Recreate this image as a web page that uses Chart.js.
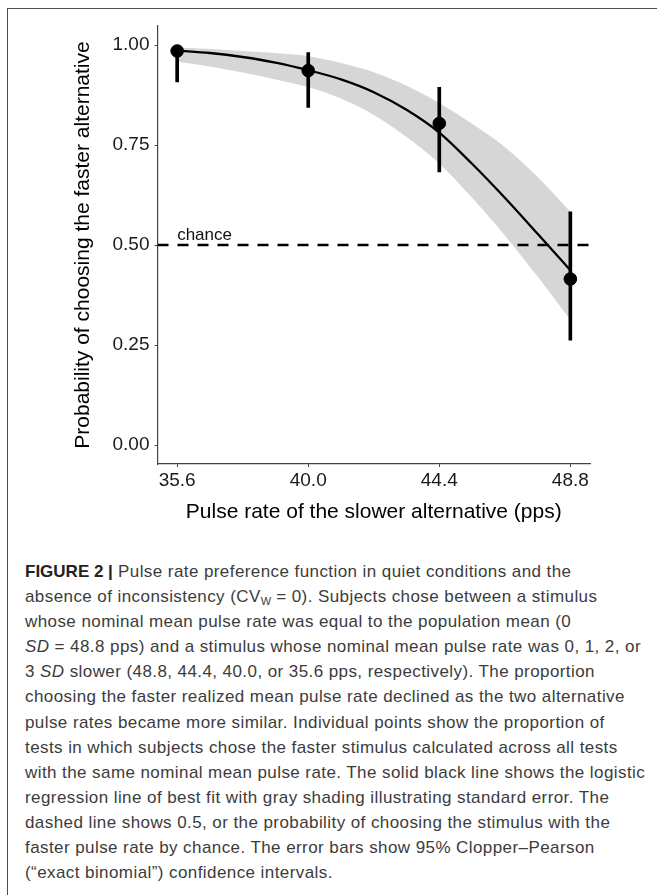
<!DOCTYPE html>
<html>
<head>
<meta charset="utf-8">
<script src="https://cdn.jsdelivr.net/npm/chart.js@4"></script>
<style>
  html, body { margin: 0; padding: 0; background: #fff; }
  body { width: 657px; height: 895px; position: relative; overflow: hidden; font-family: "Liberation Sans", Arial, sans-serif; }
  #frame { position: absolute; left: 7px; top: 8px; width: 700px; height: 950px; border-left: 1.5px solid #4d4d4d; border-top: 1.5px solid #4d4d4d; }
  #plot { position: absolute; left: 0; top: 0; }
  #caption { position: absolute; left: 25px; top: 559px; font-size: 17px; letter-spacing: 0.42px; line-height: 25.1px; color: #3c3c3c; white-space: nowrap; }
  #caption b { color: #222; letter-spacing: 0; }
  #caption sub { font-size: 11px; vertical-align: -3px; line-height: 0; letter-spacing: 0; }
</style>
</head>
<body>
<div id="frame"></div>
<canvas id="plot" width="657" height="540"></canvas>
<div id="caption">
<b>FIGURE 2 |</b> Pulse rate preference function in quiet conditions and the<br>
absence of inconsistency (CV<sub>W</sub> = 0). Subjects chose between a stimulus<br>
whose nominal mean pulse rate was equal to the population mean (0<br>
<i>SD</i> = 48.8 pps) and a stimulus whose nominal mean pulse rate was 0, 1, 2, or<br>
3 <i>SD</i> slower (48.8, 44.4, 40.0, or 35.6 pps, respectively). The proportion<br>
choosing the faster realized mean pulse rate declined as the two alternative<br>
pulse rates became more similar. Individual points show the proportion of<br>
tests in which subjects chose the faster stimulus calculated across all tests<br>
with the same nominal mean pulse rate. The solid black line shows the logistic<br>
regression line of best fit with gray shading illustrating standard error. The<br>
dashed line shows 0.5, or the probability of choosing the stimulus with the<br>
faster pulse rate by chance. The error bars show 95% Clopper–Pearson<br>
(“exact binomial”) confidence intervals.
</div>
<script>
// observed proportions with 95% Clopper-Pearson intervals
const pulseRates = [35.6, 40.0, 44.4, 48.8];
const propFaster = [0.985, 0.936, 0.804, 0.415];
const ciLow = [0.908, 0.844, 0.683, 0.262];
const ciHigh = [0.999, 0.981, 0.894, 0.583];

// logistic fit and standard error band
const fitX = [35.6, 36.7, 37.8, 38.9, 40.0, 41.1, 42.2, 43.3, 44.4, 45.5, 46.6, 47.7, 48.8];
const fitY = [0.986, 0.980, 0.970, 0.956, 0.937, 0.914, 0.882, 0.838, 0.781, 0.703, 0.618, 0.528, 0.437];
const seUpper = [0.994, 0.990, 0.985, 0.980, 0.972, 0.955, 0.932, 0.898, 0.855, 0.803, 0.745, 0.670, 0.583];
const seLower = [0.958, 0.946, 0.931, 0.914, 0.895, 0.866, 0.825, 0.770, 0.704, 0.618, 0.524, 0.421, 0.3125];

const chanceLevel = 0.5;
const xTicks = [35.6, 40.0, 44.4, 48.8];
const yTicks = [0, 0.25, 0.5, 0.75, 1.0];
const xRange = [34.94, 49.46];
const yRange = [-0.0475, 1.0475];

Chart.defaults.font.family = '"Liberation Sans", Arial, sans-serif';
Chart.defaults.color = '#1a1a1a';

const pts = (xs, ys) => xs.map((x, i) => ({ x: x, y: ys[i] }));

const chanceLabel = {
  id: 'chanceLabel',
  afterDatasetsDraw(chart) {
    const { ctx, scales } = chart;
    ctx.save();
    ctx.font = '17px "Liberation Sans", Arial, sans-serif';
    ctx.fillStyle = '#111';
    ctx.textAlign = 'left';
    ctx.textBaseline = 'alphabetic';
    ctx.fillText('chance', scales.x.getPixelForValue(pulseRates[0]), scales.y.getPixelForValue(chanceLevel) - 5);
    ctx.restore();
  }
};

new Chart(document.getElementById('plot'), {
  type: 'line',
  data: {
    datasets: [
      {
        label: 'se upper',
        data: pts(fitX, seUpper),
        borderWidth: 0,
        borderColor: 'rgba(0,0,0,0)',
        pointRadius: 0,
        cubicInterpolationMode: 'monotone',
        fill: false,
        order: 6
      },
      {
        label: 'se lower',
        data: pts(fitX, seLower),
        borderWidth: 0,
        borderColor: 'rgba(0,0,0,0)',
        backgroundColor: '#d6d6d6',
        pointRadius: 0,
        cubicInterpolationMode: 'monotone',
        fill: '-1',
        order: 5
      },
      {
        label: 'fit',
        data: pts(fitX, fitY),
        borderColor: '#000',
        borderWidth: 2.3,
        pointRadius: 0,
        cubicInterpolationMode: 'monotone',
        fill: false,
        order: 3
      },
      {
        label: 'chance',
        data: pts(xRange, [chanceLevel, chanceLevel]),
        borderColor: '#000',
        borderWidth: 2.4,
        borderDash: [11, 9],
        pointRadius: 0,
        fill: false,
        order: 2
      },
      {
        type: 'bar',
        label: 'CI',
        data: pulseRates.map((x, i) => ({ x: x, y: [ciLow[i], ciHigh[i]] })),
        backgroundColor: '#000',
        barThickness: 3,
        grouped: false,
        order: 1
      },
      {
        type: 'scatter',
        label: 'observed',
        data: pts(pulseRates, propFaster),
        backgroundColor: '#000',
        borderColor: '#000',
        pointRadius: 6.3,
        order: 0
      }
    ]
  },
  options: {
    responsive: false,
    animation: false,
    layout: { padding: { left: 0, top: 26, right: 67, bottom: 0 } },
    plugins: {
      legend: { display: false },
      tooltip: { enabled: false }
    },
    scales: {
      x: {
        type: 'linear',
        min: xRange[0],
        max: xRange[1],
        offset: false,
        afterBuildTicks: s => { s.ticks = xTicks.map(v => ({ value: v })); },
        afterFit: s => { s.height = 76; },
        ticks: {
          font: { size: 19 },
          color: '#1a1a1a',
          padding: 2,
          maxRotation: 0,
          callback: v => v.toFixed(1)
        },
        grid: { offset: false, drawOnChartArea: false, drawTicks: true, tickLength: 3, tickColor: '#444', tickWidth: 1 },
        border: { display: true, color: '#444', width: 1.2 },
        title: {
          display: true,
          text: 'Pulse rate of the slower alternative (pps)',
          font: { size: 21 },
          color: '#000',
          padding: { top: 0, bottom: 15 }
        }
      },
      y: {
        type: 'linear',
        min: yRange[0],
        max: yRange[1],
        afterBuildTicks: s => { s.ticks = yTicks.map(v => ({ value: v })); },
        afterFit: s => { s.width = 157.5; },
        ticks: {
          font: { size: 19 },
          color: '#1a1a1a',
          padding: 5,
          callback: v => v.toFixed(2)
        },
        grid: { drawOnChartArea: false, drawTicks: true, tickLength: 3, tickColor: '#444', tickWidth: 1 },
        border: { display: true, color: '#444', width: 1.2 },
        title: {
          display: true,
          text: 'Probability of choosing the faster alternative',
          font: { size: 21 },
          color: '#000',
          padding: { top: 71, bottom: 0 }
        }
      }
    }
  },
  plugins: [chanceLabel]
});
</script>
</body>
</html>
